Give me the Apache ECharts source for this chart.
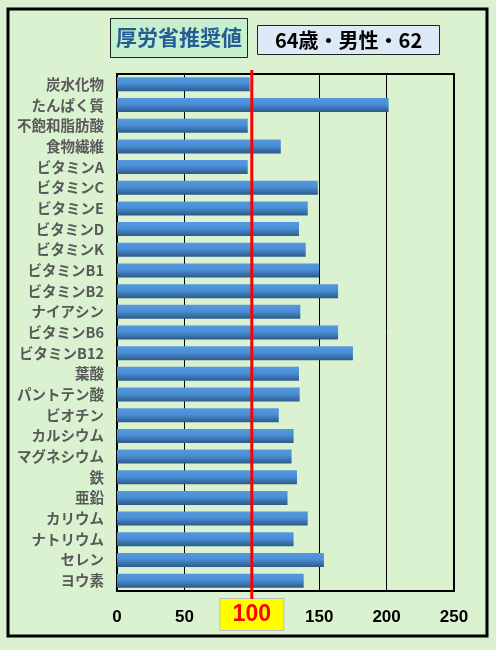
<!DOCTYPE html>
<html>
<head>
    <meta charset="utf-8">
    <title>厚労省推奨値</title>
    <script src="https://cdn.jsdelivr.net/npm/echarts@6/dist/echarts.min.js"></script>
    <style>
        html, body { margin: 0; padding: 0; background: #daf2d0; }
        #chart { width: 496px; height: 650px; }
    </style>
</head>
<body>
<div id="chart"></div>
<script type="text/javascript">
    // 栄養素（上から順）
    var nutrients = ['炭水化物', 'たんぱく質', '不飽和脂肪酸', '食物繊維', 'ビタミンA', 'ビタミンC',
        'ビタミンE', 'ビタミンD', 'ビタミンK', 'ビタミンB1', 'ビタミンB2', 'ナイアシン', 'ビタミンB6',
        'ビタミンB12', '葉酸', 'パントテン酸', 'ビオチン', 'カルシウム', 'マグネシウム', '鉄', '亜鉛',
        'カリウム', 'ナトリウム', 'セレン', 'ヨウ素'];
    // 推奨値に対する割合(%)
    var ratios = [98.5, 201.5, 97, 121.5, 97, 149, 141.5, 135, 140, 150, 164, 136, 164,
        175, 135, 135.5, 120, 131, 129.5, 133.5, 126.5, 141.5, 131, 153.5, 138.5];
    var xTicks = [0, 50, 100, 150, 200, 250];
    var baseLine = 100;

    var myChart = echarts.init(document.getElementById('chart'));
    myChart.setOption({
        backgroundColor: '#daf2d0',
        animation: false,
        title: [
            {
                text: '厚労省推奨値',
                left: 110, top: 18,
                backgroundColor: '#c6efce',
                borderColor: '#222',
                borderWidth: 1,
                padding: [9, 6, 10, 6],
                textStyle: {
                    color: '#245d96', fontSize: 21, fontWeight: 'bold',
                    fontFamily: 'Noto Sans CJK JP'
                }
            },
            {
                text: '64歳・男性・62',
                left: 257, top: 25,
                backgroundColor: '#dde9f7',
                borderColor: '#222',
                borderWidth: 1,
                padding: [5, 18, 5, 18],
                textStyle: {
                    color: '#000', fontSize: 20, fontWeight: 'bold',
                    fontFamily: 'Noto Sans CJK JP'
                }
            }
        ],
        graphic: [
            {
                type: 'rect',
                shape: { x: 8, y: 9, width: 479, height: 627 },
                style: { fill: 'none', stroke: '#000', lineWidth: 3 },
                silent: true
            }
        ],
        grid: [
            { left: 117, right: 42, top: 74, bottom: 59, show: true, borderColor: '#000', borderWidth: 2 },
            { left: 117, right: 42, top: 70, bottom: 51 }
        ],
        xAxis: [
            {
                type: 'value',
                gridIndex: 0,
                min: xTicks[0],
                max: xTicks[xTicks.length - 1],
                interval: 50,
                axisLine: { show: false },
                axisTick: { show: false },
                splitLine: { lineStyle: { color: '#000', width: 1 } },
                axisLabel: {
                    margin: 8,
                    formatter: function (v) {
                        return v === baseLine ? '{hl|' + v + '}' : '{n|' + v + '}';
                    },
                    rich: {
                        n: {
                            color: '#000',
                            fontSize: 17,
                            fontWeight: 'bold',
                            fontFamily: 'Liberation Sans',
                            lineHeight: 36
                        },
                        hl: {
                            color: '#ff0000',
                            fontSize: 23,
                            fontWeight: 'bold',
                            fontFamily: 'Liberation Sans',
                            lineHeight: 31,
                            height: 31,
                            width: 41,
                            align: 'center',
                            backgroundColor: '#ffff00',
                            borderColor: '#bfbfbf',
                            borderWidth: 1,
                            padding: [0, 11, 0, 11]
                        }
                    }
                }
            },
            { type: 'value', gridIndex: 1, min: 0, max: 250, show: false }
        ],
        yAxis: [
            {
                type: 'category',
                gridIndex: 0,
                data: nutrients,
                inverse: true,
                axisLine: { lineStyle: { color: '#000', width: 2 } },
                axisTick: { show: false },
                axisLabel: {
                    margin: 13,
                    color: '#595959',
                    fontSize: 14.5,
                    fontWeight: 'bold',
                    fontFamily: 'Noto Sans CJK JP'
                }
            },
            { type: 'value', gridIndex: 1, min: 0, max: 1, show: false }
        ],
        series: [
            {
                name: '推奨値比',
                type: 'bar',
                xAxisIndex: 0,
                yAxisIndex: 0,
                data: ratios,
                barWidth: 14,
                itemStyle: {
                    color: new echarts.graphic.LinearGradient(0, 0, 0, 1, [
                        { offset: 0, color: '#5499df' },
                        { offset: 0.45, color: '#4a8fd7' },
                        { offset: 1, color: '#2c5a89' }
                    ])
                }
            },
            {
                name: '基準',
                type: 'line',
                xAxisIndex: 1,
                yAxisIndex: 1,
                data: [[baseLine, 0], [baseLine, 1]],
                symbol: 'none',
                z: 10,
                lineStyle: { color: '#ff0000', width: 3 }
            }
        ]
    });
</script>
</body>
</html>
